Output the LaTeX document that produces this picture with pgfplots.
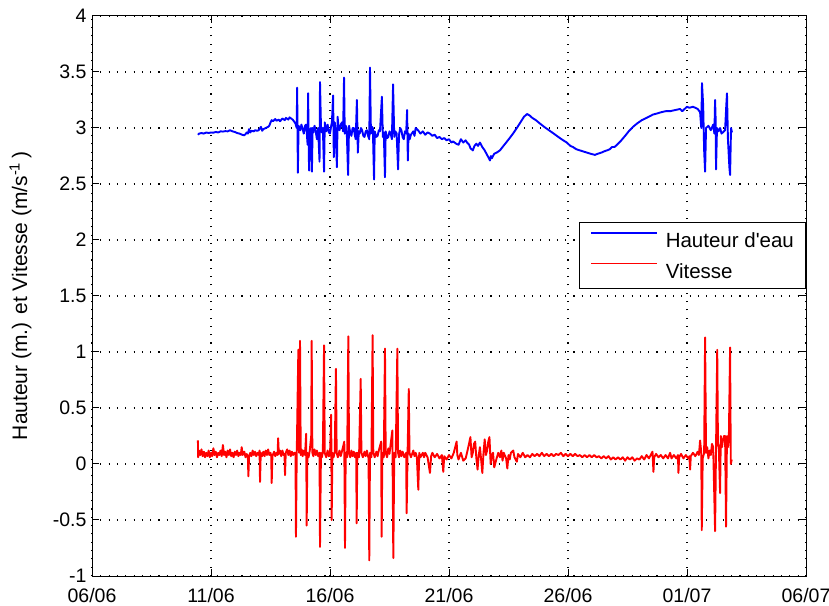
\documentclass[border=0pt]{standalone}
\usepackage{pgfplots}
\pgfplotsset{compat=1.18}
\usepackage{fontspec}
\setmainfont{Liberation Sans}
\begin{document}
\begin{tikzpicture}
\begin{axis}[
  at={(92bp,30bp)}, anchor=south west,
  width=714bp, height=560bp, scale only axis,
  xmin=0, xmax=30, ymin=-1, ymax=4,
  xtick={0,5,10,15,20,25,30},
  xticklabels={06/06,11/06,16/06,21/06,26/06,01/07,06/07},
  ytick={-1,-0.5,0,0.5,1,1.5,2,2.5,3,3.5,4},
  yticklabels={-1,-0.5,0,0.5,1,1.5,2,2.5,3,3.5,4},
  tick align=inside, tick pos=both,
  major tick length=7bp,
  axis line style={line width=1bp},
  every tick/.style={black, line width=1bp},
  grid=major,
  major grid style={black, line width=1.1bp, dash pattern=on 1.1bp off 7.2bp},
  /pgf/number format/assume math mode=true,
  tick label style={font=\fontsize{19.5bp}{23bp}\selectfont},
  xticklabel style={yshift=-9bp},
  yticklabel style={xshift=-2bp},
  ylabel={Hauteur (m.) et Vitesse (m/s\textsuperscript{-1}\,)},
  ylabel style={font=\fontsize{21bp}{25bp}\selectfont, at={(axis description cs:-0.1,0.5)}, anchor=center},
  legend style={at={(axis description cs:0.682,0.632)}, anchor=north west,
    draw=black, line width=0.8bp, fill=white,
    font=\fontsize{20.5bp}{24bp}\selectfont,
    inner xsep=11bp, inner ysep=10bp, row sep=15bp, column sep=8bp,
    nodes={inner sep=0bp, text height=14.7bp, text depth=0bp}},
  legend cell align=left,
  legend image code/.code={\draw[#1, line width=1.4bp] (0bp,7.3bp) -- (66bp,7.3bp);},
]
\addplot[blue, line width=1.9bp, line join=round] coordinates {
(4.45,2.94) (4.5,2.95) (4.6,2.955) (4.7,2.95) (4.8,2.96) (4.9,2.955) (5.0,2.96) (5.1,2.958) (5.2,2.965) (5.3,2.96) (5.4,2.97) (5.5,2.968) (5.6,2.972) (5.7,2.97) (5.8,2.98) (5.9,2.97) (6.0,2.965) (6.1,2.955) (6.2,2.95) (6.3,2.94) (6.4,2.935) (6.45,2.945) (6.5,2.96) (6.55,2.95) (6.6,2.99) (6.65,2.96) (6.7,2.975) (6.8,2.97) (6.85,2.98) (6.95,2.975) (7.0,2.98) (7.05,2.995) (7.1,3.01) (7.15,2.975) (7.2,2.99) (7.3,3.0) (7.4,3.01) (7.45,3.02) (7.5,3.05) (7.55,3.07) (7.6,3.06) (7.7,3.08) (7.75,3.065) (7.85,3.075) (7.9,3.06) (8.0,3.085) (8.1,3.07) (8.15,3.09) (8.25,3.075) (8.3,3.095) (8.4,3.08) (8.45,3.07) (8.55,3.04)
(8.6,3.0) (8.62,3.36) (8.65,2.60) (8.68,3.02) (8.75,2.98) (8.8,3.03) (8.85,2.99) (8.9,2.95) (8.95,3.02) (9.0,3.03) (9.06,2.85) (9.08,3.31) (9.12,2.62) (9.16,2.98) (9.2,3.0) (9.24,2.61) (9.27,3.0) (9.3,2.96) (9.35,3.02) (9.4,2.97) (9.45,2.9) (9.5,3.0) (9.56,2.7) (9.58,3.41) (9.62,3.02) (9.66,2.96) (9.7,3.0) (9.75,2.61) (9.78,3.05) (9.84,2.97) (9.9,3.03) (9.95,2.96) (10.0,2.95) (10.05,3.02) (10.08,3.05) (10.13,3.29) (10.16,2.74) (10.2,3.05) (10.24,2.97) (10.29,2.65) (10.32,3.1) (10.36,3.0) (10.4,2.98) (10.45,3.03) (10.5,3.05) (10.55,2.97) (10.59,3.45) (10.62,2.95) (10.66,3.02) (10.7,3.0) (10.76,2.58) (10.8,3.02) (10.85,2.96) (10.9,2.93) (10.95,3.0) (11.0,3.0) (11.04,2.94) (11.08,2.9) (11.13,3.25) (11.17,2.78) (11.21,2.97) (11.25,2.95) (11.3,3.0) (11.35,2.98) (11.4,2.93) (11.45,2.92) (11.5,2.97) (11.55,2.98) (11.6,2.93) (11.65,2.9) (11.68,3.54) (11.72,2.95) (11.76,3.01) (11.8,3.0) (11.85,2.54) (11.88,2.97) (11.94,2.92) (12.0,2.93) (12.05,2.98) (12.1,2.97) (12.18,3.28) (12.22,2.92) (12.26,2.96) (12.31,2.56) (12.34,2.97) (12.4,2.91) (12.45,2.92) (12.5,2.97) (12.55,2.95) (12.6,2.9) (12.65,3.39) (12.7,2.92) (12.75,2.97) (12.8,2.95) (12.86,2.63) (12.9,2.94) (12.95,3.0) (13.0,2.98) (13.05,2.92) (13.1,2.9) (13.15,2.97) (13.2,2.95) (13.24,3.16) (13.27,2.71) (13.3,2.95)
(13.35,2.9) (13.4,2.94) (13.5,2.97) (13.55,2.93) (13.6,3.0) (13.7,2.98) (13.8,2.95) (13.9,2.97) (14.0,2.94) (14.1,2.96) (14.2,2.95) (14.3,2.93) (14.4,2.94) (14.5,2.91) (14.6,2.92) (14.7,2.9) (14.8,2.91) (14.9,2.89) (15.0,2.9) (15.1,2.87) (15.17,2.88) (15.3,2.86) (15.4,2.85) (15.5,2.9) (15.6,2.87) (15.7,2.89) (15.76,2.87) (15.85,2.85) (15.9,2.82) (16.0,2.80) (16.07,2.84) (16.15,2.86) (16.22,2.84) (16.3,2.87) (16.4,2.83) (16.5,2.8) (16.6,2.76) (16.65,2.74) (16.72,2.71) (16.76,2.75) (16.8,2.73) (16.9,2.77) (17.0,2.78) (17.14,2.80) (17.25,2.83) (17.4,2.87) (17.55,2.91) (17.69,2.95) (17.85,3.0) (18.0,3.05) (18.15,3.1) (18.28,3.125) (18.4,3.11) (18.5,3.09) (18.65,3.07) (18.82,3.04) (19.0,3.01) (19.2,2.98) (19.4,2.95) (19.66,2.91) (19.8,2.89) (19.95,2.87) (20.1,2.84) (20.21,2.83) (20.35,2.81) (20.5,2.80) (20.65,2.79) (20.80,2.78) (20.95,2.77) (21.13,2.76) (21.25,2.77) (21.4,2.78) (21.5,2.79) (21.64,2.80) (21.75,2.81) (21.85,2.83) (21.95,2.83) (22.06,2.85) (22.2,2.88) (22.4,2.93) (22.55,2.97) (22.73,3.01) (22.9,3.04) (23.1,3.07) (23.3,3.09) (23.57,3.12) (23.75,3.13) (23.9,3.14) (24.1,3.15) (24.29,3.15) (24.5,3.16) (24.71,3.17) (24.8,3.15) (24.9,3.17) (25.0,3.19) (25.1,3.18) (25.25,3.19) (25.35,3.18) (25.45,3.17) (25.55,3.14)
(25.6,3.0) (25.63,3.40) (25.68,3.2) (25.72,2.8) (25.76,2.61) (25.8,3.0) (25.9,3.02) (26.0,2.98) (26.1,3.03) (26.15,2.95) (26.18,3.25) (26.2,3.1) (26.22,2.63) (26.26,3.0) (26.32,2.97) (26.39,3.0) (26.45,2.95) (26.5,2.96) (26.6,2.98) (26.65,3.2) (26.68,3.31) (26.72,2.9) (26.78,2.65) (26.81,2.58) (26.85,3.0) (26.89,2.96)
};
\addlegendentry{Hauteur d\textquotesingle eau}
\addplot[red, line width=1.9bp, line join=round] coordinates {
(4.45,0.21) (4.46,0.06) (4.5,0.12) (4.55,0.08) (4.6,0.13) (4.65,0.07) (4.7,0.11) (4.75,0.06) (4.8,0.1) (4.85,0.07) (4.9,0.12) (4.95,0.06) (5.0,0.1) (5.05,0.07) (5.1,0.14) (5.15,0.08) (5.2,0.11) (5.25,0.06) (5.3,0.1) (5.35,0.08) (5.4,0.12) (5.45,0.07) (5.5,0.17) (5.55,0.08) (5.6,0.11) (5.65,0.06) (5.7,0.12) (5.75,0.08) (5.8,0.13) (5.85,0.07) (5.9,0.1) (5.95,0.06) (6.0,0.11) (6.05,0.08) (6.1,0.12) (6.15,0.07) (6.2,0.1) (6.25,0.08) (6.29,0.15) (6.33,0.08) (6.4,0.11) (6.45,0.06) (6.5,0.09) (6.55,0.06) (6.57,-0.11) (6.6,0.07) (6.65,0.1) (6.7,0.07) (6.75,0.12) (6.8,0.08) (6.85,0.11) (6.9,0.07) (6.95,0.1) (7.0,0.08) (7.04,0.12) (7.06,-0.16) (7.09,0.1) (7.15,0.07) (7.2,0.11) (7.25,0.07) (7.3,0.12) (7.35,0.08) (7.4,0.13) (7.45,0.08) (7.5,0.1) (7.53,0.07) (7.55,-0.17) (7.58,0.07) (7.65,0.11) (7.7,0.07) (7.75,0.1) (7.8,0.08) (7.82,0.23) (7.85,0.09) (7.9,0.12) (7.95,0.07) (8.0,0.12) (8.05,0.08) (8.09,0.09) (8.11,-0.1) (8.14,0.1) (8.2,0.13) (8.25,0.08) (8.3,0.12) (8.35,0.07) (8.4,0.11) (8.45,0.08) (8.5,0.1)
(8.55,0.1) (8.57,-0.65) (8.6,0.05) (8.67,1.02) (8.7,0.1) (8.74,1.10) (8.77,0.08) (8.81,0.13) (8.85,0.07) (8.9,0.12) (8.95,0.08) (9.0,0.27) (9.02,-0.55) (9.05,0.1) (9.1,0.06) (9.15,0.12) (9.21,0.25) (9.23,1.10) (9.26,0.1) (9.3,0.07) (9.35,0.13) (9.4,0.08) (9.45,0.12) (9.5,0.07) (9.56,0.1) (9.58,-0.74) (9.62,0.1) (9.66,0.06) (9.7,0.11) (9.75,1.06) (9.78,0.1) (9.84,0.06) (9.9,0.12) (9.95,0.07) (10.0,0.08) (10.05,0.44) (10.07,-0.5) (10.1,0.1) (10.15,0.06) (10.2,0.11) (10.25,0.85) (10.28,0.1) (10.33,0.06) (10.4,0.12) (10.45,0.07) (10.5,0.11) (10.6,0.2) (10.63,-0.75) (10.66,0.1) (10.72,0.06) (10.77,1.14) (10.8,0.1) (10.85,0.06) (10.9,0.12) (10.95,0.07) (11.0,0.11) (11.05,0.06) (11.1,0.1) (11.12,-0.53) (11.15,0.1) (11.22,0.06) (11.29,0.76) (11.32,0.1) (11.38,0.06) (11.45,0.11) (11.5,0.07) (11.55,0.12) (11.62,0.05) (11.65,-0.86) (11.68,0.1) (11.74,0.06) (11.79,1.15) (11.82,0.1) (11.88,0.06) (11.95,0.11) (12.0,0.07) (12.05,0.12) (12.15,0.2) (12.17,-0.65) (12.2,0.1) (12.26,0.06) (12.31,1.03) (12.34,0.1) (12.4,0.06) (12.45,0.14) (12.5,0.09) (12.55,0.18) (12.62,0.3) (12.66,-0.84) (12.7,0.1) (12.76,0.06) (12.83,1.03) (12.86,0.1) (12.9,0.06) (12.95,0.12) (13.0,0.07) (13.05,0.11) (13.12,0.06) (13.2,0.1) (13.22,-0.44) (13.26,0.1) (13.31,0.67) (13.34,0.1) (13.4,0.06) (13.5,0.12) (13.55,0.07) (13.6,0.1) (13.65,0.06) (13.71,-0.23) (13.75,0.1) (13.8,0.06) (13.9,0.1) (13.95,0.06) (14.0,0.1) (14.1,0.06) (14.2,-0.08) (14.25,0.07) (14.3,0.1) (14.4,0.06) (14.5,0.09) (14.6,0.05) (14.7,0.08) (14.76,-0.07) (14.8,0.07) (14.9,0.04) (15.0,0.08) (15.1,0.05) (15.2,0.1) (15.32,0.2) (15.35,0.08) (15.4,0.04) (15.5,0.1) (15.6,0.03) (15.7,0.05) (15.8,0.14) (15.9,0.24) (15.95,0.06) (16.0,0.1) (16.05,0.18) (16.1,0.2) (16.15,0.05) (16.2,-0.05) (16.25,0.08) (16.3,0.15) (16.35,0.04) (16.4,-0.08) (16.45,0.1) (16.5,0.22) (16.55,0.08) (16.6,0.12) (16.65,0.2) (16.7,0.24) (16.75,0.0) (16.8,0.08) (16.85,0.1) (16.9,-0.03) (17.0,0.05) (17.07,0.1) (17.14,0.06)
(17.2,0.12) (17.25,0.03) (17.3,0.1) (17.4,0.05) (17.45,-0.04) (17.5,0.08) (17.55,0.04) (17.6,0.1) (17.7,0.12) (17.75,0.06) (17.85,0.02) (17.9,0.09) (18.0,0.06) (18.1,0.1) (18.2,0.06) (18.3,0.08) (18.4,0.06) (18.5,0.09) (18.6,0.07) (18.7,0.09) (18.8,0.07) (18.9,0.1) (19.0,0.07) (19.1,0.09) (19.2,0.07) (19.3,0.09) (19.4,0.07) (19.5,0.09) (19.6,0.08) (19.7,0.1) (19.8,0.07) (19.9,0.09) (20.0,0.07) (20.1,0.09) (20.2,0.07) (20.3,0.09) (20.4,0.07) (20.5,0.08) (20.6,0.06) (20.7,0.08) (20.8,0.06) (20.9,0.08) (21.0,0.06) (21.1,0.08) (21.2,0.06) (21.3,0.07) (21.4,0.05) (21.5,0.07) (21.6,0.05) (21.7,0.07) (21.8,0.04) (21.9,0.06) (22.0,0.04) (22.1,0.06) (22.2,0.04) (22.3,0.06) (22.4,0.03) (22.5,0.06) (22.6,0.04) (22.7,0.06) (22.8,0.03) (22.9,0.05) (23.0,0.04)
(23.1,0.07) (23.2,0.04) (23.3,0.08) (23.4,0.05) (23.5,0.09) (23.55,0.11) (23.59,-0.07) (23.62,0.06) (23.7,0.09) (23.8,0.06) (23.9,0.08) (24.0,0.05) (24.1,0.08) (24.2,0.05) (24.29,0.1) (24.35,0.05) (24.45,0.08) (24.55,0.05) (24.62,0.08) (24.64,-0.08) (24.67,0.06) (24.75,0.09) (24.85,0.05) (24.95,0.08) (25.05,0.05) (25.1,0.07) (25.13,-0.05) (25.16,0.07) (25.25,0.1) (25.35,0.07) (25.45,0.11) (25.5,0.08) (25.55,0.21) (25.6,0.1) (25.62,-0.59) (25.66,0.05) (25.72,0.1) (25.76,1.13) (25.8,0.1) (25.85,0.15) (25.9,0.05) (25.95,0.12) (26.0,0.08) (26.05,0.18) (26.1,0.15) (26.18,-0.60) (26.22,0.15) (26.27,1.02) (26.3,0.2) (26.34,0.12) (26.39,-0.26) (26.42,0.25) (26.47,0.15) (26.5,0.2) (26.55,0.25) (26.6,0.25) (26.64,-0.56) (26.68,0.25) (26.72,0.15) (26.76,0.25) (26.81,1.04) (26.84,0.0) (26.88,0.04)
};
\addlegendentry{Vitesse}
\end{axis}
\pgfresetboundingbox
\path (0,0) rectangle (829bp,606bp);
\end{tikzpicture}
\end{document}
